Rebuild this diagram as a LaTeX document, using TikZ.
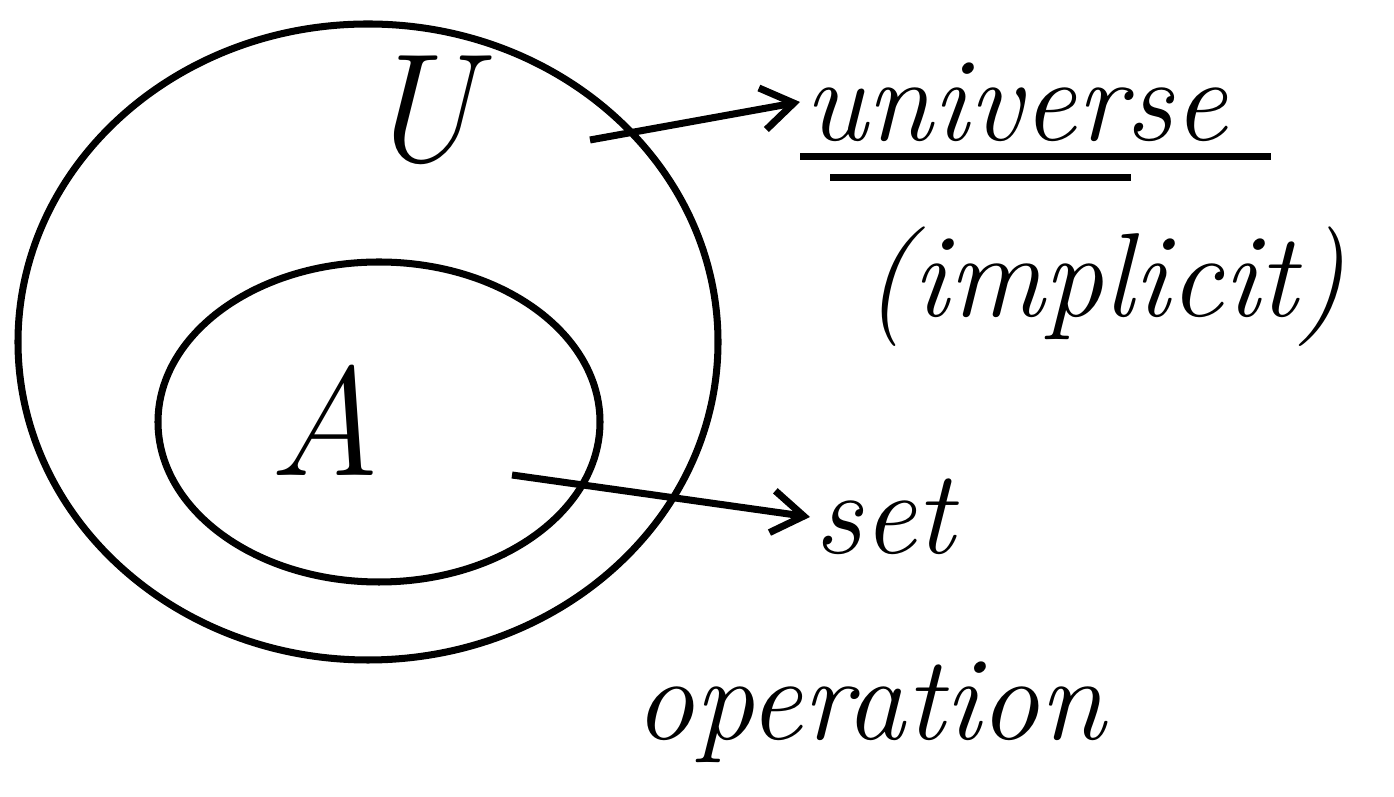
\documentclass[tikz,border=0pt]{standalone}
\usepackage{tikz}
\usetikzlibrary{positioning,arrows.meta,shapes.geometric}

\begin{document}
\begin{tikzpicture}[
  ink/.style={draw=black, line width=2pt},
  blob/.style={ellipse, ink, minimum width=#1},
  hand/.style={font=\fontsize{34}{40}\selectfont\itshape, inner sep=1pt},
  big/.style={font=\fontsize{44}{50}\selectfont\itshape, inner sep=1pt},
  ar/.style={-{Straight Barb[length=9pt, width=12pt]}, ink},
]
\useasboundingbox (0,0) rectangle (13.94,7.97);

\node[blob=7.0cm, minimum height=6.36cm] (outer) at (3.68, 4.55) {};
\node[blob=4.42cm, minimum height=3.2cm] (inner) at (3.79, 3.75) {};

\node[big] (ulab) at (4.20, 6.87) {U};
\node[big] (alab) at (3.25, 3.77) {A};

\node[hand, anchor=west] (univ) at (8.00, 6.95) {universe};
\node[hand] (impl) at (11.05, 5.10) {(implicit)};
\node[hand, anchor=west] (setw) at (8.10, 2.80) {set};
\node[hand] (oper) at (8.70, 0.85) {operation};

% double underline
\draw[ink] ([yshift=-3pt]univ.south west) -- ([xshift=0.4cm, yshift=-3pt]univ.south east);
\draw[ink] ([xshift=0.3cm, yshift=-9pt]univ.south west) -- ([xshift=-1.0cm, yshift=-9pt]univ.south east);

\coordinate (ustart) at (5.90, 6.57);
\coordinate (astart) at (5.12, 3.22);
\draw[ar] (ustart) -- (univ.west);
\draw[ar] (astart) -- (setw.west);

\end{tikzpicture}
\end{document}
